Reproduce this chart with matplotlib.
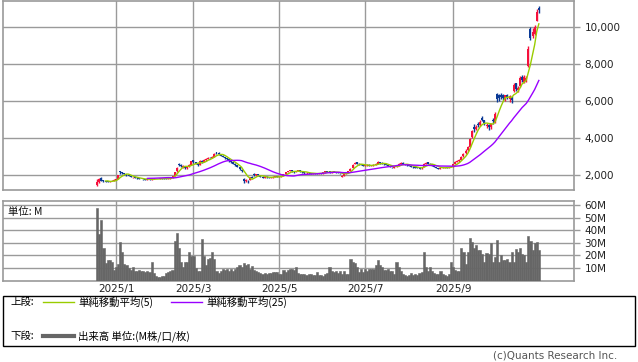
import numpy as np
import pandas as pd
import matplotlib
matplotlib.use('Agg')
import matplotlib.pyplot as plt
from matplotlib.patches import Rectangle
from matplotlib.lines import Line2D

# daily OHLC (yen), trading days 2024/12/18 - 2025/10/31, grouped by month
opens = [
    1440, 1600, 1850, 1720, 1660, 1650, 1620, 1670, 1700,
    1730, 1800, 2200, 2150, 2120, 2060, 1990, 1940, 1870, 1890, 1860, 1810, 1780, 1800, 1790, 1740, 1790, 1750, 1770,
    1800, 1770, 1810, 1830, 1820, 1810, 1790, 1820, 1860, 1960, 2200, 2600, 2560, 2450, 2460, 2380, 2430, 2560,
    2800, 2700, 2620, 2560, 2760, 2720, 2830, 2880, 2960, 2930, 3000, 3230, 3210, 3150, 3050, 2980, 2900, 2840, 2760, 2700,
    2600, 2530, 2420, 2280, 1800, 1680, 1700, 1750, 1900, 2050, 1990, 2030, 1960, 1900, 1860, 1910, 1890, 1860, 1870, 1900, 1930,
    1890, 1930, 1960, 2060, 2170, 2210, 2270, 2190, 2160, 2230, 2260, 2190, 2140, 2090, 2130, 2110, 2070, 2110, 2090, 2040,
    2110, 2090, 2140, 2210, 2190, 2140, 2180, 2170, 2140, 2110, 1900, 1960, 2060, 2170, 2220, 2380, 2600, 2680, 2620, 2590, 2560,
    2490, 2530, 2560, 2490, 2530, 2560, 2610, 2720, 2660, 2610, 2590, 2560, 2510, 2440, 2400, 2440, 2490, 2610, 2660, 2610, 2560, 2530,
    2480, 2460, 2430, 2390, 2370, 2360, 2450, 2610, 2680, 2610, 2570, 2490, 2440, 2390, 2340, 2370, 2410, 2430, 2390, 2420,
    2460, 2620, 2720, 2760, 2830, 3020, 3180, 3350, 3520, 4050, 4600, 4500, 4750, 4700, 5100, 4950, 4650, 4720, 4580, 5000,
    4850, 6400, 6300, 6300, 6350, 6100, 6350, 6100, 6200, 6550, 6950, 6600, 6800, 7300, 7050, 7100, 7900, 9900, 9500, 9600, 10350, 11050,
]
highs = [
    1770, 1840, 1890, 1740, 1690, 1670, 1680, 1720, 1760,
    1780, 2000, 2230, 2180, 2130, 2070, 2010, 1960, 1900, 1900, 1870, 1830, 1810, 1810, 1800, 1800, 1800, 1790, 1820,
    1810, 1810, 1840, 1840, 1830, 1820, 1830, 1870, 1970, 2180, 2450, 2650, 2600, 2520, 2480, 2450, 2580, 2780,
    2830, 2720, 2640, 2800, 2820, 2850, 2900, 2950, 3000, 3050, 3180, 3260, 3230, 3160, 3080, 3000, 2930, 2860, 2780, 2720,
    2630, 2560, 2440, 2300, 1850, 1800, 1720, 1900, 1930, 2100, 2080, 2050, 1980, 1920, 1920, 1930, 1900, 1900, 1920, 1940, 1950,
    1940, 1970, 2070, 2170, 2230, 2290, 2280, 2210, 2220, 2280, 2270, 2200, 2150, 2140, 2140, 2120, 2120, 2120, 2100, 2110,
    2130, 2170, 2230, 2230, 2200, 2190, 2190, 2180, 2150, 2120, 1980, 2070, 2170, 2220, 2380, 2580, 2700, 2700, 2640, 2610, 2570,
    2550, 2580, 2570, 2540, 2580, 2630, 2740, 2730, 2680, 2630, 2600, 2570, 2520, 2460, 2470, 2500, 2630, 2680, 2680, 2620, 2570, 2540,
    2500, 2470, 2440, 2410, 2380, 2420, 2630, 2690, 2700, 2630, 2580, 2500, 2450, 2400, 2400, 2420, 2440, 2440, 2440, 2470,
    2620, 2740, 2800, 2850, 3050, 3200, 3380, 3560, 4000, 4450, 4750, 4700, 4850, 4950, 5200, 5000, 4800, 4780, 4800, 5100,
    5400, 6450, 6400, 6450, 6400, 6350, 6400, 6300, 6250, 6950, 7000, 6800, 7350, 7400, 7400, 7350, 8950, 10000, 9950, 10100, 10950, 11150,
]
lows = [
    1420, 1570, 1680, 1620, 1600, 1600, 1610, 1650, 1690,
    1710, 1790, 2080, 2060, 2020, 1960, 1920, 1880, 1850, 1830, 1800, 1780, 1770, 1750, 1720, 1730, 1750, 1740, 1760,
    1760, 1760, 1800, 1800, 1790, 1780, 1780, 1810, 1850, 1950, 2180, 2480, 2450, 2400, 2350, 2340, 2420, 2550,
    2650, 2570, 2500, 2550, 2650, 2700, 2780, 2850, 2900, 2900, 2990, 3120, 3100, 3020, 2960, 2880, 2820, 2720, 2660, 2570,
    2500, 2420, 2280, 2150, 1570, 1600, 1580, 1720, 1820, 1970, 1960, 1950, 1880, 1820, 1840, 1860, 1850, 1840, 1860, 1890, 1880,
    1880, 1910, 1950, 2040, 2150, 2190, 2180, 2130, 2140, 2200, 2180, 2130, 2080, 2070, 2080, 2060, 2060, 2060, 2030, 2030,
    2080, 2080, 2130, 2160, 2130, 2130, 2140, 2130, 2100, 2080, 1880, 1950, 2050, 2150, 2210, 2370, 2580, 2570, 2550, 2530, 2480,
    2470, 2510, 2480, 2470, 2510, 2540, 2600, 2620, 2580, 2560, 2530, 2480, 2430, 2390, 2380, 2420, 2480, 2590, 2580, 2530, 2500, 2480,
    2430, 2400, 2380, 2360, 2320, 2340, 2440, 2590, 2600, 2560, 2480, 2430, 2380, 2320, 2330, 2360, 2390, 2380, 2380, 2410,
    2450, 2600, 2680, 2720, 2820, 3000, 3150, 3320, 3500, 4000, 4350, 4420, 4600, 4650, 4900, 4700, 4550, 4450, 4500, 4780,
    4800, 5950, 6000, 6100, 6050, 6000, 6100, 5950, 5900, 6500, 6550, 6500, 6750, 7050, 7000, 7050, 7850, 9300, 9400, 9550, 10300, 10750,
]
closes = [
    1601, 1790, 1700, 1650, 1640, 1630, 1660, 1700, 1740,
    1750, 1980, 2150, 2100, 2050, 1980, 1950, 1900, 1880, 1850, 1820, 1800, 1790, 1770, 1750, 1780, 1760, 1780, 1790,
    1780, 1800, 1820, 1810, 1800, 1790, 1820, 1850, 1950, 2150, 2400, 2550, 2500, 2480, 2400, 2420, 2550, 2750,
    2700, 2600, 2550, 2750, 2700, 2800, 2850, 2900, 2950, 3000, 3150, 3200, 3150, 3050, 3000, 2900, 2850, 2750, 2700, 2600,
    2550, 2450, 2300, 2200, 1700, 1750, 1650, 1880, 1850, 2000, 2050, 1980, 1900, 1850, 1900, 1880, 1870, 1880, 1900, 1920, 1900,
    1920, 1950, 2050, 2150, 2200, 2250, 2200, 2150, 2200, 2250, 2200, 2150, 2100, 2120, 2100, 2080, 2100, 2080, 2050, 2100,
    2100, 2150, 2200, 2180, 2150, 2170, 2160, 2150, 2120, 2100, 1950, 2050, 2150, 2200, 2350, 2550, 2650, 2600, 2580, 2550, 2500,
    2520, 2550, 2500, 2520, 2550, 2600, 2700, 2650, 2600, 2580, 2550, 2500, 2450, 2420, 2450, 2480, 2600, 2650, 2600, 2550, 2520, 2500,
    2450, 2420, 2400, 2380, 2350, 2400, 2600, 2650, 2620, 2580, 2500, 2450, 2400, 2350, 2380, 2400, 2420, 2400, 2420, 2450,
    2600, 2700, 2750, 2800, 3000, 3150, 3300, 3500, 3950, 4400, 4500, 4600, 4700, 4850, 5000, 4800, 4700, 4600, 4750, 4900,
    5300, 6100, 6150, 6200, 6150, 6300, 6200, 6250, 6050, 6850, 6650, 6700, 7250, 7150, 7300, 7250, 8800, 9400, 9750, 10000, 10800, 10900,
]
# volume, millions of shares
volumes = [
    58, 37, 48, 26, 14, 16, 16, 15, 8.5,
    11, 13, 31, 23, 13, 12, 10, 8.5, 11, 7.5, 7.5, 8.5, 7.5, 7.5, 7, 7.5, 6.5, 15, 6,
    3.5, 3, 3, 3.5, 4, 6, 7, 7.5, 8.5, 31.5, 37.5, 25.5, 14.5, 10.5, 14.5, 15, 23, 19.5,
    19.5, 10, 8, 7.5, 33, 19.5, 12, 17, 18, 23, 17, 8, 6, 7.5, 9.5, 8.5, 9.5, 8, 9.5, 8,
    9.5, 11, 12, 11, 14, 12, 13, 9.5, 11.5, 8.5, 7.5, 6.5, 6, 5, 6, 5, 6, 6, 6.5, 7, 6.5,
    5.5, 5, 8.5, 7, 8.5, 9.5, 9.5, 8.5, 11, 6, 5, 5, 5.5, 4.5, 5, 5.5, 4.5, 4.5, 7, 4.5,
    4.5, 4, 5, 6, 11, 7.5, 7, 7.5, 6, 7.5, 5, 7.5, 5, 5, 17, 15, 14, 11, 6.5, 9.5, 6.5,
    9.5, 8, 9.5, 9, 9, 12, 16, 12, 11, 8.5, 8.5, 9, 7.5, 8, 5, 15, 11, 7.5, 5, 4.5, 4, 4.5,
    6, 4.5, 5, 4.5, 6, 6.5, 23, 11, 7.5, 11, 7.5, 6, 5, 5.5, 8, 5, 4.5, 3.5, 5, 14.5,
    11, 8.5, 8, 7.5, 25.5, 23, 13, 23, 33.5, 31, 25.5, 28, 24, 24, 21.5, 15, 22, 21.5, 30, 15,
    19, 32, 15, 20.5, 16.5, 16.5, 17.5, 15, 23, 15, 25, 23, 25.5, 21.5, 20.5, 15, 35.5, 31.5, 24, 30, 31, 24,
]

# first trading day of each month (bar index) and labels
month_idx = [9, 46, 87, 128, 170]
month_labels = ['2025/1', '2025/3', '2025/5', '2025/7', '2025/9']
price_ticks = [2000, 4000, 6000, 8000, 10000]
vol_ticks = [10, 20, 30, 40, 50, 60]

UP = '#f5103c'
DOWN = '#0b3a96'
MA5_C = '#99cc00'
MA25_C = '#9900ff'
GRID = '#9a9a9a'
JP = ['Noto Sans CJK JP', 'DejaVu Sans']

W, H = 638, 362
fig = plt.figure(figsize=(W / 100, H / 100), dpi=100)


def frac(x0, y0, x1, y1):
    # pixel box -> figure fraction [left, bottom, width, height]
    return [x0 / W, 1 - y1 / H, (x1 - x0) / W, (y1 - y0) / H]


o = np.array(opens, float)
h = np.array(highs, float)
l = np.array(lows, float)
c = np.array(closes, float)
v = np.array(volumes, float)
x = np.arange(len(c))
ma5 = pd.Series(c).rolling(5).mean()
ma25 = pd.Series(c).rolling(25).mean()

xlim = (-45.0, 227.8)

# ---- upper panel: candles + moving averages
ax = fig.add_axes(frac(3, 1, 574, 190))
ax.set_xlim(*xlim)
ax.set_ylim(1190, 11405)
up = c >= o
cols = np.where(up, UP, DOWN)
ax.vlines(x, l, h, colors=cols, lw=1.0, zorder=3)
body_lo = np.minimum(o, c)
body_h = np.maximum(np.abs(c - o), 30)
ax.bar(x, body_h, bottom=body_lo, width=0.95, color=cols, lw=0, zorder=3)
ax.plot(x, ma5, color=MA5_C, lw=1.0, zorder=4)
ax.plot(x, ma25, color=MA25_C, lw=1.0, zorder=4)

ax.set_yticks(price_ticks)
ax.set_yticklabels([f'{t:,}' for t in price_ticks])
ax.set_xticks(month_idx)
ax.tick_params(axis='x', length=0, labelbottom=False)
ax.yaxis.tick_right()
ax.tick_params(axis='y', direction='out', length=4.5, width=1, color=GRID,
               labelsize=7.5, pad=3, labelcolor='#222222')
ax.grid(True, color=GRID, lw=1)
ax.set_axisbelow(True)
for s in ax.spines.values():
    s.set_color(GRID)
    s.set_linewidth(1.2)

# ---- lower panel: volume
axv = fig.add_axes(frac(3, 201, 574, 280.6))
axv.set_xlim(*xlim)
axv.set_ylim(0, 63.2)
axv.bar(x, v, width=1.0, color='#666666', ec='#666666', lw=0.4, zorder=3)
axv.set_yticks(vol_ticks)
axv.set_yticklabels([f'{t}M' for t in vol_ticks])
axv.set_xticks(month_idx)
axv.set_xticklabels(month_labels)
axv.yaxis.tick_right()
axv.tick_params(axis='y', direction='out', length=4.5, width=1, color=GRID,
                labelsize=7.5, pad=3, labelcolor='#222222')
axv.tick_params(axis='x', length=0, labelsize=7.5, pad=2.5, labelcolor='#222222')
axv.grid(True, color=GRID, lw=1)
axv.set_axisbelow(True)
for s in axv.spines.values():
    s.set_color(GRID)
    s.set_linewidth(1.2)
axv.text(5 / 571, 0.93, '単位: M', transform=axv.transAxes, ha='left', va='top',
         fontsize=7.5, family=JP, color='#111111', zorder=5)

# ---- legend box
box = Rectangle((3 / W, 1 - 346 / H), 632 / W, 50 / H, transform=fig.transFigure,
                fill=False, ec='black', lw=1)
fig.add_artist(box)


def px(xp, yp):
    return xp / W, 1 - yp / H


fig.text(*px(10, 302), '上段:', fontsize=7.5, family=JP, va='center', ha='left')
fig.add_artist(Line2D([43 / W, 74 / W], [1 - 302 / H] * 2, color=MA5_C, lw=1.0,
                      transform=fig.transFigure))
fig.text(*px(78, 302), '単純移動平均(5)', fontsize=7.5, family=JP, va='center', ha='left')
fig.add_artist(Line2D([171 / W, 202 / W], [1 - 302 / H] * 2, color=MA25_C, lw=1.0,
                      transform=fig.transFigure))
fig.text(*px(206, 302), '単純移動平均(25)', fontsize=7.5, family=JP, va='center', ha='left')

fig.text(*px(10, 336), '下段:', fontsize=7.5, family=JP, va='center', ha='left')
fig.add_artist(Line2D([43 / W, 74 / W], [1 - 336 / H] * 2, color='#666666', lw=3.0,
                      transform=fig.transFigure))
fig.text(*px(78, 336), '出来高 単位:(M株/口/枚)', fontsize=7.5, family=JP, va='center', ha='left')

fig.text(*px(617, 356), '(c)Quants Research Inc.', fontsize=7.5, color='#555555',
         va='center', ha='right')

fig.savefig('out.png', dpi=100)
